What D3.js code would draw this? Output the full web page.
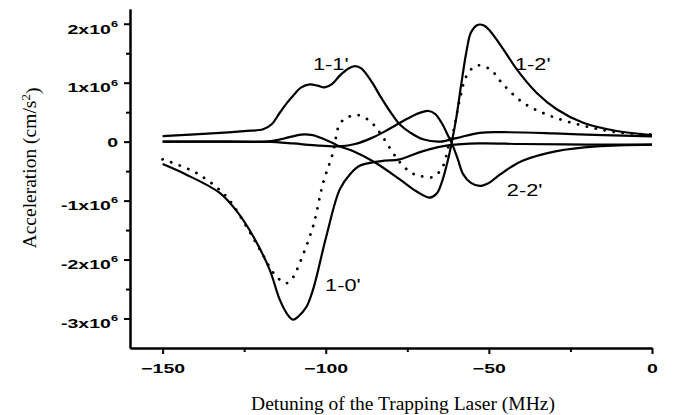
<!DOCTYPE html>
<html>
<head>
<meta charset="utf-8">
<script src="https://cdn.jsdelivr.net/npm/d3@7"></script>
<style>
  body { margin: 0; background: #fff; }
  .tick line { stroke: #000; stroke-width: 2; }
  .domain { stroke: #000; stroke-width: 2; }
  .tick text { font-family: "Liberation Sans", Arial, sans-serif; font-weight: bold; font-size: 13px; fill: #000; }
</style>
</head>
<body>
<svg id="chart"></svg>
<script>
const width = 673;
const height = 415;

// acceleration in units of 1e6 cm/s^2, detuning in MHz
const tr10 = [[-150,-0.38],[-142.7,-0.56],[-132.5,-0.87],[-127,-1.2],[-122.3,-1.6],[-117.2,-2.17],[-114.1,-2.68],[-111.5,-2.95],[-110,-3.02],[-108.5,-2.97],[-105.9,-2.8],[-103.9,-2.51],[-99.8,-1.6],[-95.7,-0.81],[-92.5,-0.55],[-89.6,-0.41],[-83,-0.33],[-77.3,-0.3],[-70.2,-0.16],[-62,-0.06],[-53,-0.03],[-40,-0.04],[-20,-0.05],[0,-0.05]];

const tr11 = [[-150,0.095],[-135,0.14],[-125,0.18],[-119.2,0.21],[-116.5,0.3],[-114.1,0.49],[-112,0.65],[-110,0.78],[-107.5,0.92],[-104.9,0.97],[-102.5,0.95],[-100.3,0.92],[-98,0.98],[-95.7,1.12],[-93,1.24],[-91.1,1.28],[-89,1.24],[-87.5,1.14],[-85.5,0.98],[-83.4,0.78],[-79.4,0.44],[-77.3,0.29],[-74,0.15],[-70.2,0.04],[-65,0.0],[-60,0.06],[-52.8,0.15],[-45,0.16],[-30,0.14],[-15,0.11],[0,0.09]];

const tr12 = [[-150,0.0],[-130,0.0],[-118,0.0],[-113,0.05],[-107.5,0.12],[-104,0.11],[-101.8,0.07],[-98,-0.02],[-95.7,-0.08],[-91.7,-0.16],[-85,-0.35],[-77.3,-0.64],[-72,-0.85],[-68.1,-0.95],[-66,-0.88],[-64.5,-0.7],[-62.5,-0.3],[-61.4,-0.02],[-60,0.4],[-58.4,1.0],[-56.8,1.55],[-55.5,1.85],[-53.5,1.98],[-51.5,1.97],[-49.7,1.88],[-45.6,1.57],[-41.5,1.23],[-35.4,0.83],[-29.2,0.55],[-21.1,0.32],[-10.8,0.18],[0,0.11]];

const tr22 = [[-150,0.0],[-130,0.0],[-118,0.0],[-110,-0.03],[-104,-0.06],[-98,-0.08],[-95.7,-0.08],[-91,-0.04],[-86,0.06],[-82,0.17],[-78.2,0.29],[-74,0.42],[-70.5,0.5],[-68.5,0.52],[-66.5,0.47],[-64.5,0.32],[-62.5,0.1],[-61.4,-0.02],[-59.5,-0.3],[-57.9,-0.55],[-55.5,-0.7],[-52.8,-0.75],[-50,-0.7],[-47.6,-0.6],[-43.5,-0.44],[-39.5,-0.32],[-29.2,-0.16],[-17,-0.08],[0,-0.05]];

const total = [[-150,-0.3],[-139.7,-0.53],[-130.5,-0.93],[-124.3,-1.44],[-120.2,-1.83],[-115.1,-2.29],[-112,-2.4],[-110,-2.3],[-108,-2.06],[-103.9,-1.44],[-100.8,-0.7],[-97.8,-0.19],[-95.7,0.3],[-93,0.42],[-90.1,0.45],[-86.5,0.35],[-83.4,0.15],[-79.4,-0.19],[-77.3,-0.35],[-74,-0.52],[-71.2,-0.58],[-67.1,-0.6],[-64,-0.41],[-62.5,-0.1],[-61,0.15],[-58.9,0.72],[-56.8,1.12],[-53.8,1.29],[-49.7,1.23],[-45.6,0.97],[-39.5,0.66],[-31.3,0.44],[-21.1,0.27],[-10.8,0.16],[0,0.12]];

const xTicks = [-150, -100, -50, 0];
const xMinor = [-125, -75, -25];
const yTicks = [2, 1, 0, -1, -2, -3];
const yMinor = [1.5, 0.5, -0.5, -1.5, -2.5];

const labels = [
  {text: "1-1'", x: -103.9, y: 1.215},
  {text: "1-2'", x: -42, y: 1.215},
  {text: "2-2'", x: -44.5, y: -0.92},
  {text: "1-0'", x: -100.2, y: -2.53}
];

const svg = d3.select("#chart")
    .attr("width", width)
    .attr("height", height);

svg.append("rect").attr("width", width).attr("height", height).attr("fill", "#fff");

const x = d3.scaleLinear().domain([-160, 0]).range([130, 652]);
const y = d3.scaleLinear().domain([-3.5, 2.25]).range([348, 9]);

// the figure's lettering is stretched sideways
const stretch = 1.5;

// axes
svg.append("g")
    .attr("transform", "translate(0,348)")
    .call(d3.axisBottom(x).tickValues(xMinor).tickSize(4).tickSizeOuter(0).tickFormat(""));

svg.append("g")
    .attr("transform", "translate(0,348)")
    .call(d3.axisBottom(x).tickValues(xTicks).tickSize(6).tickSizeOuter(0).tickPadding(10))
    .call(g => g.selectAll(".tick text")
        .attr("transform", `scale(${stretch},1)`));

svg.append("g")
    .attr("transform", "translate(130,0)")
    .call(d3.axisLeft(y).tickValues(yMinor).tickSize(4).tickSizeOuter(0).tickFormat(""));

svg.append("g")
    .attr("transform", "translate(130,0)")
    .call(d3.axisLeft(y).tickValues(yTicks).tickSize(6).tickSizeOuter(0).tickFormat(""))
    .call(g => g.selectAll(".tick text").each(function(d) {
      const t = d3.select(this)
          .attr("x", 0)
          .attr("dy", null)
          .attr("transform", `translate(-12,0) scale(${stretch},1)`);
      if (d === 0) { t.attr("y", 4.6).text("0"); return; }
      t.attr("y", 9.3);
      t.append("tspan").text(d + "x10");
      t.append("tspan").attr("dy", -7).attr("font-size", "8.5px").text("6");
    }));

// curves
const line = d3.line()
    .x(d => x(d[0]))
    .y(d => y(d[1]))
    .curve(d3.curveCatmullRom.alpha(0.5));

[tr10, tr11, tr12, tr22].forEach(s => {
  svg.append("path")
      .datum(s)
      .attr("fill", "none")
      .attr("stroke", "#000")
      .attr("stroke-width", 2.2)
      .attr("d", line);
});

svg.append("path")
    .datum(total)
    .attr("fill", "none")
    .attr("stroke", "#000")
    .attr("stroke-width", 2.8)
    .attr("stroke-linecap", "round")
    .attr("stroke-dasharray", "0.1 9")
    .attr("d", line);

// curve labels
svg.selectAll(".lab")
  .data(labels)
  .enter().append("text")
    .attr("class", "lab")
    .attr("transform", d => `translate(${x(d.x)},${y(d.y)}) scale(1.28,1)`)
    .attr("font-family", "Liberation Sans, Arial, sans-serif")
    .attr("font-size", 17)
    .text(d => d.text);

// axis titles
svg.append("text")
    .attr("x", 403)
    .attr("y", 410)
    .attr("text-anchor", "middle")
    .attr("font-family", "Liberation Serif, Times New Roman, serif")
    .attr("font-size", 19.5)
    .text("Detuning of the Trapping Laser (MHz)");

const yt = svg.append("text")
    .attr("transform", "translate(36,168) rotate(-90)")
    .attr("text-anchor", "middle")
    .attr("font-family", "Liberation Serif, Times New Roman, serif")
    .attr("font-size", 19.5);
yt.append("tspan").text("Acceleration (cm/s");
yt.append("tspan").attr("dy", "-0.5em").attr("font-size", "13px").text("2");
yt.append("tspan").attr("dy", "0.5em").text(")");
</script>
</body>
</html>
